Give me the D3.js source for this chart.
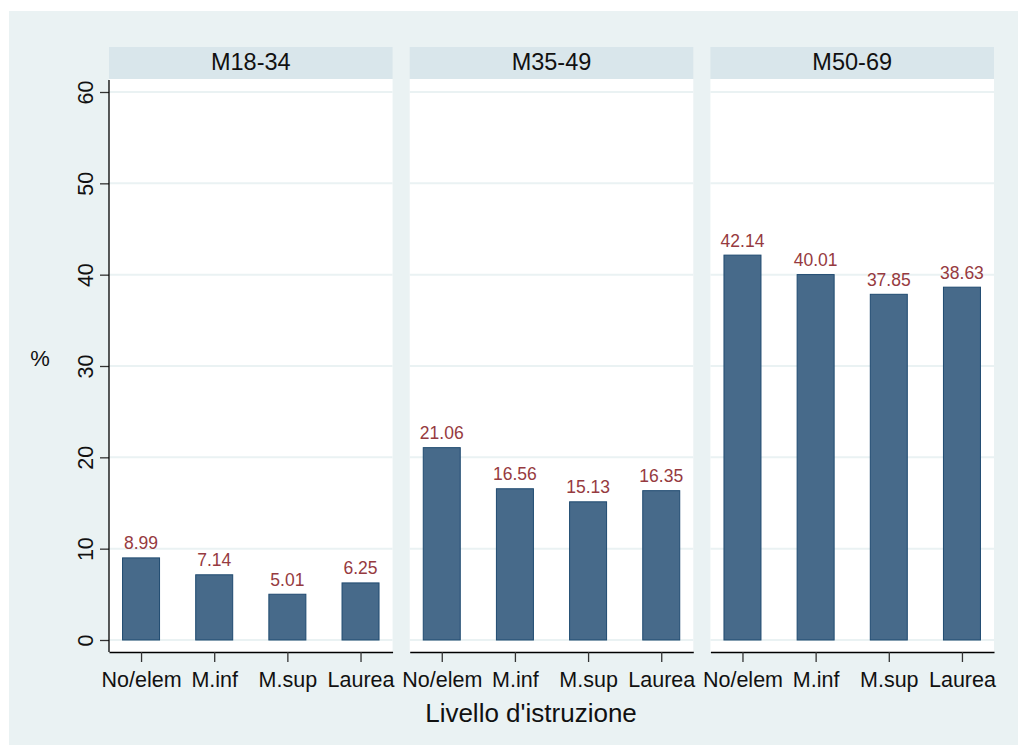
<!DOCTYPE html>
<html>
<head>
<meta charset="utf-8">
<script src="https://cdn.jsdelivr.net/npm/d3@7"></script>
<style>
  body { margin: 0; background: #fff; }
  svg { display: block; font-family: "Liberation Sans", Arial, Helvetica, sans-serif; }
</style>
</head>
<body>
<svg id="chart" width="1018" height="745"></svg>
<script>
// Data
// ----
var groups = ["M18-34", "M35-49", "M50-69"];
var categories = ["No/elem", "M.inf", "M.sup", "Laurea"];
var valuesM1834 = [8.99, 7.14, 5.01, 6.25];
var valuesM3549 = [21.06, 16.56, 15.13, 16.35];
var valuesM5069 = [42.14, 40.01, 37.85, 38.63];
var yTicks = [0, 10, 20, 30, 40, 50, 60];
var yLabel = "%";
var xLabel = "Livello d'istruzione";

var groupValues = [valuesM1834, valuesM3549, valuesM5069];

// Layout
// ------
var svg = d3.select("#chart");
var plotTop = 79, plotBottom = 652, stripTop = 47;

svg.append("rect")
  .attr("x", 9).attr("y", 11)
  .attr("width", 1009).attr("height", 734)
  .attr("fill", "#eaf2f3");

var panelX = d3.scaleBand()
  .domain(groups)
  .range([109, 994])
  .paddingInner(0.057);

var y = d3.scaleLinear()
  .domain([0, 60])
  .range([640, 92]);

var bw = panelX.bandwidth();
var x = d3.scalePoint()
  .domain(categories)
  .range([0, bw])
  .padding(0.438);
var barW = 37;

// Panels
// ------
groups.forEach(function (g, gi) {
  var panel = svg.append("g")
    .attr("transform", "translate(" + panelX(g) + ",0)");

  // strip
  panel.append("rect")
    .attr("x", 0).attr("y", stripTop)
    .attr("width", bw).attr("height", plotTop - stripTop)
    .attr("fill", "#d9e6eb");
  panel.append("text")
    .attr("x", bw / 2).attr("y", 70)
    .attr("text-anchor", "middle")
    .attr("font-size", 23.5)
    .attr("fill", "#111")
    .text(g);

  // plot region
  panel.append("rect")
    .attr("x", 0).attr("y", plotTop)
    .attr("width", bw).attr("height", plotBottom - plotTop)
    .attr("fill", "#fff");

  // grid
  panel.selectAll(".grid")
    .data(yTicks)
    .enter().append("line")
    .attr("class", "grid")
    .attr("x1", 0).attr("x2", bw)
    .attr("y1", function (d) { return y(d); })
    .attr("y2", function (d) { return y(d); })
    .attr("stroke", "#eaf2f3")
    .attr("stroke-width", 2);

  // bars
  var data = categories.map(function (c, i) { return {cat: c, v: groupValues[gi][i]}; });
  panel.selectAll(".bar")
    .data(data)
    .enter().append("rect")
    .attr("class", "bar")
    .attr("x", function (d) { return x(d.cat) - barW / 2; })
    .attr("y", function (d) { return y(d.v); })
    .attr("width", barW)
    .attr("height", function (d) { return y(0) - y(d.v); })
    .attr("fill", "#476a8a")
    .attr("stroke", "#1f4a70")
    .attr("stroke-width", 1);

  // value labels
  panel.selectAll(".lbl")
    .data(data)
    .enter().append("text")
    .attr("class", "lbl")
    .attr("x", function (d) { return x(d.cat); })
    .attr("y", function (d) { return y(d.v) - 8.5; })
    .attr("text-anchor", "middle")
    .attr("font-size", 17.5)
    .attr("fill", "#963a40")
    .text(function (d) { return d.v.toFixed(2); });

  // x axis
  var xAxis = panel.append("g")
    .attr("transform", "translate(0," + plotBottom + ")")
    .call(d3.axisBottom(x).tickSize(10).tickSizeOuter(0).tickPadding(10));
  xAxis.select(".domain").attr("stroke", "#000").attr("stroke-width", 1.3);
  xAxis.selectAll(".tick line").attr("stroke", "#333").attr("stroke-width", 1.3);
  xAxis.selectAll(".tick text")
    .attr("font-size", 21.5)
    .attr("font-family", "Liberation Sans, Arial, sans-serif")
    .attr("fill", "#111");
});

// Y axis
// ------
var yAxis = svg.append("g")
  .attr("transform", "translate(109,0)")
  .call(d3.axisLeft(y).tickValues(yTicks).tickSize(9).tickSizeOuter(0));
yAxis.select(".domain").remove();
yAxis.append("line")
  .attr("x1", 0).attr("x2", 0)
  .attr("y1", plotTop + 1).attr("y2", plotBottom)
  .attr("stroke", "#000").attr("stroke-width", 1.3);
yAxis.selectAll(".tick line").attr("stroke", "#333").attr("stroke-width", 1.3);
yAxis.selectAll(".tick text")
  .attr("x", null).attr("dy", null)
  .attr("transform", "translate(-16,0) rotate(-90)")
  .attr("text-anchor", "middle")
  .attr("font-size", 21.5)
  .attr("font-family", "Liberation Sans, Arial, sans-serif")
  .attr("fill", "#111");

// Axis titles
// -----------
svg.append("text")
  .attr("x", 40).attr("y", 366)
  .attr("text-anchor", "middle")
  .attr("font-size", 22)
  .attr("fill", "#111")
  .text(yLabel);

svg.append("text")
  .attr("x", 531).attr("y", 722)
  .attr("text-anchor", "middle")
  .attr("font-size", 26)
  .attr("fill", "#111")
  .text(xLabel);
</script>
</body>
</html>
